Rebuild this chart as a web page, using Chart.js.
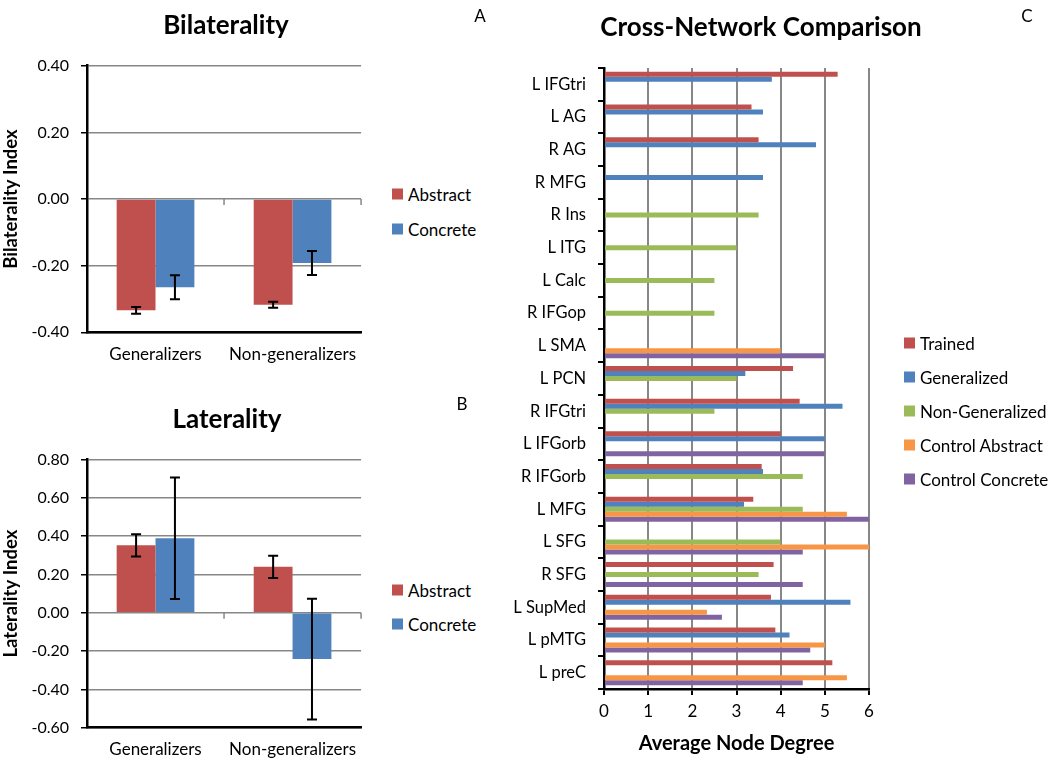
<!DOCTYPE html>
<html><head><meta charset="utf-8">
<script src="https://cdn.jsdelivr.net/npm/chart.js@4/dist/chart.umd.min.js"></script>
<style>
html,body{margin:0;padding:0;background:#fff;width:1050px;height:761px;overflow:hidden;font-family:Lato,sans-serif;color:#000;}
.box{position:absolute;}
.title{position:absolute;font-weight:bold;font-size:26px;transform:translate(-50%,-50%);white-space:nowrap;}
.letter{position:absolute;font-size:17px;transform:translate(-50%,-50%);}
.leg{position:absolute;font-size:17px;white-space:nowrap;display:flex;align-items:center;transform:translateY(-50%);}
.sw{width:11px;height:11px;margin-right:5px;display:inline-block}
</style></head>
<body>
<div class="box" style="left:0;top:0"><canvas id="cA" width="370" height="380"></canvas></div>
<div class="box" style="left:0;top:380px"><canvas id="cB" width="370" height="381"></canvas></div>
<div class="box" style="left:500px;top:0"><canvas id="cC" width="550" height="761"></canvas></div>

<div class="title" style="left:226px;top:24px">Bilaterality</div>
<div class="letter" style="left:480px;top:15px">A</div>
<div class="title" style="left:227px;top:418px">Laterality</div>
<div class="letter" style="left:462px;top:403px">B</div>
<div class="title" style="left:761px;top:26px">Cross-Network Comparison</div>
<div class="letter" style="left:1027px;top:15px">C</div>

<div id="legA"></div><div id="legB"></div><div id="legC"></div>

<script>
// ---------- Panel A: Bilaterality ----------
const bilatCategories = ['Generalizers', 'Non-generalizers'];
const bilatAbstract = [-0.334, -0.317];
const bilatAbstractErr = [0.010, 0.009];
const bilatConcrete = [-0.265, -0.192];
const bilatConcreteErr = [0.036, 0.036];
const bilatTicks = [-0.4, -0.2, 0, 0.2, 0.4];

// ---------- Panel B: Laterality ----------
const latCategories = ['Generalizers', 'Non-generalizers'];
const latAbstract = [0.352, 0.240];
const latAbstractErr = [0.058, 0.058];
const latConcrete = [0.389, -0.242];
const latConcreteErr = [0.317, 0.315];
const latTicks = [-0.6, -0.4, -0.2, 0, 0.2, 0.4, 0.6, 0.8];

// ---------- Panel C: Cross-Network Comparison ----------
const regions = ['L IFGtri','L AG','R AG','R MFG','R Ins','L ITG','L Calc','R IFGop','L SMA','L PCN',
                 'R IFGtri','L IFGorb','R IFGorb','L MFG','L SFG','R SFG','L SupMed','L pMTG','L preC'];
const trained        = [5.29, 3.34, 3.50, null, null, null, null, null, null, 4.28, 4.43, 4.00, 3.57, 3.38, null, 3.84, 3.78, 3.88, 5.17];
const generalized    = [3.80, 3.60, 4.80, 3.60, null, null, null, null, null, 3.20, 5.40, 5.00, 3.60, 3.17, null, null, 5.58, 4.20, null];
const nonGeneralized = [null, null, null, null, 3.50, 3.00, 2.50, 2.50, null, 3.00, 2.50, null, 4.50, 4.50, 4.00, 3.50, null, null, null];
const controlAbstract= [null, null, null, null, null, null, null, null, 4.00, null, null, null, null, 5.50, 6.00, null, 2.33, 5.00, 5.50];
const controlConcrete= [null, null, null, null, null, null, null, null, 5.00, null, null, 5.00, null, 6.00, 4.50, 4.50, 2.67, 4.67, 4.50];
const nodeTicks = [0, 1, 2, 3, 4, 5, 6];

const RED = '#C0504D', BLUE = '#4F81BD', GREEN = '#9BBB59', ORANGE = '#F79646', PURPLE = '#8064A2';
const GRID = '#878787';
const FONT = 'Lato';

Chart.defaults.font.family = FONT;
Chart.defaults.color = '#000';

const errorBarPlugin = {
  id: 'errorBars',
  afterDatasetsDraw(chart) {
    const ctx = chart.ctx, ys = chart.scales.y;
    chart.data.datasets.forEach((ds, di) => {
      if (!ds.errors) return;
      const meta = chart.getDatasetMeta(di);
      meta.data.forEach((bar, i) => {
        const v = ds.data[i], e = ds.errors[i];
        const yt = ys.getPixelForValue(v + e), yb = ys.getPixelForValue(v - e);
        ctx.save();
        ctx.strokeStyle = '#000'; ctx.lineWidth = 2;
        ctx.beginPath();
        ctx.moveTo(bar.x, yt); ctx.lineTo(bar.x, yb);
        ctx.moveTo(bar.x - 5, yt); ctx.lineTo(bar.x + 5, yt);
        ctx.moveTo(bar.x - 5, yb); ctx.lineTo(bar.x + 5, yb);
        ctx.stroke();
        ctx.restore();
      });
    });
  }
};

// tick marks on the category axis line crossing at zero
const zeroTicksPlugin = {
  id: 'zeroTicks',
  beforeDatasetsDraw(chart) {
    const ctx = chart.ctx, xs = chart.scales.x, ys = chart.scales.y;
    const y0 = ys.getPixelForValue(0);
    const n = xs.ticks.length, a = chart.chartArea;
    ctx.save();
    ctx.strokeStyle = GRID; ctx.lineWidth = 1.5;
    ctx.beginPath();
    for (let k = 1; k <= n; k++) {
      const x = a.left + k * (a.right - a.left) / n;
      ctx.moveTo(x, y0); ctx.lineTo(x, y0 + 6);
    }
    ctx.stroke();
    ctx.restore();
  }
};

function pairChart(id, cats, abs, absErr, con, conErr, ticks, yTitle, padTop, xH) {
  return new Chart(document.getElementById(id), {
    type: 'bar',
    data: {
      labels: cats,
      datasets: [
        { label: 'Abstract', data: abs, errors: absErr, backgroundColor: RED, categoryPercentage: 0.567, barPercentage: 1.0 },
        { label: 'Concrete', data: con, errors: conErr, backgroundColor: BLUE, categoryPercentage: 0.567, barPercentage: 1.0 }
      ]
    },
    options: {
      responsive: false, animation: false, devicePixelRatio: 1,
      layout: { padding: { left: 0, right: 8, top: padTop, bottom: 0 } },
      plugins: { legend: { display: false }, tooltip: { enabled: false } },
      scales: {
        x: {
          afterFit: s => { s.height = xH; },
          ticks: { color: '#000', font: { family: FONT, size: 17 }, padding: 12 },
          grid: { display: true, drawOnChartArea: false, drawTicks: false },
          border: { color: '#000', width: 2.5 }
        },
        y: {
          min: ticks[0], max: ticks[ticks.length - 1],
          afterBuildTicks: s => { s.ticks = ticks.map(v => ({ value: v })); },
          afterFit: s => { s.width = 87; },
          ticks: { callback: v => Number(v).toFixed(2), color: '#000', font: { family: FONT, size: 16 }, padding: 12 },
          grid: { color: GRID, lineWidth: 1.5, tickColor: '#000', tickLength: 6 },
          border: { color: '#000', width: 2.5 },
          title: { display: true, text: yTitle, color: '#000', font: { family: FONT, size: 18.5, weight: 'bold' }, padding: { top: 0, bottom: 0 } }
        }
      }
    },
    plugins: [zeroTicksPlugin, errorBarPlugin]
  });
}

pairChart('cA', bilatCategories, bilatAbstract, bilatAbstractErr, bilatConcrete, bilatConcreteErr, bilatTicks, 'Bilaterality Index', 65.7, 380 - 332.3);
pairChart('cB', latCategories, latAbstract, latAbstractErr, latConcrete, latConcreteErr, latTicks, 'Laterality Index', 459.5 - 380, 761 - 727.7);

new Chart(document.getElementById('cC'), {
  type: 'bar',
  data: {
    labels: regions,
    datasets: [
      { label: 'Trained', data: trained, backgroundColor: RED },
      { label: 'Generalized', data: generalized, backgroundColor: BLUE },
      { label: 'Non-Generalized', data: nonGeneralized, backgroundColor: GREEN },
      { label: 'Control Abstract', data: controlAbstract, backgroundColor: ORANGE },
      { label: 'Control Concrete', data: controlConcrete, backgroundColor: PURPLE }
    ]
  },
  options: {
    indexAxis: 'y',
    responsive: false, animation: false, devicePixelRatio: 1,
    datasets: { bar: { categoryPercentage: 0.765, barPercentage: 1.0 } },
    layout: { padding: { left: 0, right: 550 - 369, top: 68, bottom: 0 } },
    plugins: { legend: { display: false }, tooltip: { enabled: false } },
    scales: {
      x: {
        min: 0, max: 6,
        afterBuildTicks: s => { s.ticks = nodeTicks.map(v => ({ value: v })); },
        afterFit: s => { s.height = 761 - 689; },
        ticks: { color: '#000', font: { family: FONT, size: 17 }, padding: 6 },
        grid: { color: GRID, lineWidth: 2, tickColor: '#000', tickLength: 6 },
        border: { color: '#000', width: 2.5 },
        title: { display: true, text: 'Average Node Degree', color: '#000', font: { family: FONT, size: 20, weight: 'bold' }, padding: { top: 0, bottom: 5 } }
      },
      y: {
        afterFit: s => { s.width = 104; },
        ticks: { color: '#000', font: { family: FONT, size: 16.5 }, padding: 12, autoSkip: false },
        grid: { offset: true, drawOnChartArea: false, tickLength: 6, tickColor: '#000', lineWidth: 2 },
        border: { color: '#000', width: 2.5 }
      }
    }
  }
});

// ---------- HTML legends ----------
function legend(el, items, x, ys) {
  const host = document.getElementById(el);
  items.forEach((it, i) => {
    const d = document.createElement('div');
    d.className = 'leg';
    d.style.left = x + 'px'; d.style.top = ys[i] + 'px';
    d.innerHTML = '<span class="sw" style="background:' + it[1] + '"></span>' + it[0];
    host.appendChild(d);
  });
}
legend('legA', [['Abstract', RED], ['Concrete', BLUE]], 392, [194, 229]);
legend('legB', [['Abstract', RED], ['Concrete', BLUE]], 392, [590, 624]);
legend('legC', [['Trained', RED], ['Generalized', BLUE], ['Non-Generalized', GREEN], ['Control Abstract', ORANGE], ['Control Concrete', PURPLE]], 904, [343, 377, 411, 445, 479]);
</script>
</body></html>
